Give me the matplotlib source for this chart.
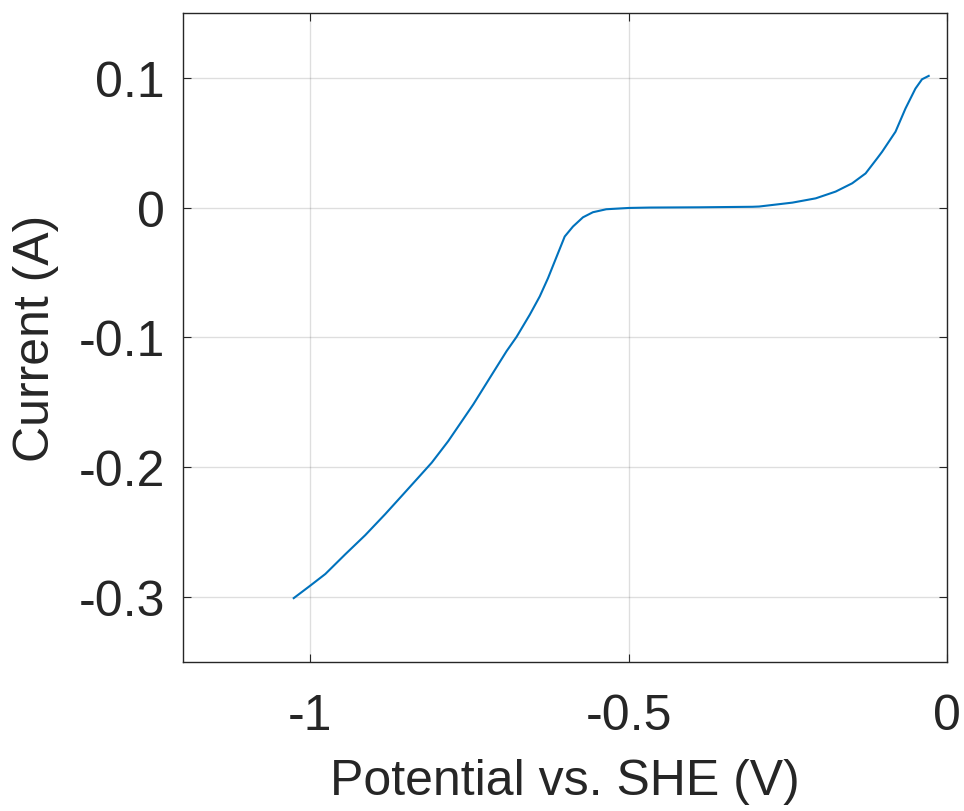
import matplotlib
matplotlib.use("Agg")
import matplotlib.pyplot as plt

potential = [-1.0262, -1.0, -0.9765, -0.9451, -0.9138, -0.8824, -0.8563, -0.8303, -0.8092,
             -0.7834, -0.7440, -0.7179, -0.6917, -0.6760, -0.6552, -0.6395, -0.6265,
             -0.6108, -0.6003, -0.5873, -0.5716, -0.5560, -0.5350, -0.4995, -0.4671,
             -0.389, -0.3052, -0.2947, -0.2425, -0.2058, -0.1745, -0.1484, -0.1274, -0.1092,
             -0.1014, -0.0804, -0.0647, -0.0491, -0.0387, -0.0282]
current = [-0.3008, -0.2911, -0.2822, -0.2670, -0.2523, -0.2361, -0.2220, -0.2079, -0.1964,
           -0.1799, -0.1516, -0.1311, -0.1106, -0.0996, -0.0825, -0.0684, -0.0543,
           -0.0351, -0.0223, -0.0146, -0.0075, -0.0036, -0.0013, -0.0003, 0.0,
           0.0002, 0.0006, 0.0008, 0.0038, 0.0071, 0.0123, 0.0187, 0.0263, 0.0379,
           0.0430, 0.0584, 0.0763, 0.0916, 0.0988, 0.1014]
xticks = [-1, -0.5, 0]
xticklabels = ["-1", "-0.5", "0"]
yticks = [-0.3, -0.2, -0.1, 0, 0.1]
yticklabels = ["-0.3", "-0.2", "-0.1", "0", "0.1"]

plt.rcParams['font.family'] = ['Liberation Sans', 'DejaVu Sans']
fig = plt.figure(figsize=(9.64, 8.12), dpi=100)
ax = fig.add_axes([0.190, 0.1835, 0.792, 0.7995])
ax.plot(potential, current, color='#0072BD', lw=1.5)
ax.set_xlim(-1.2, 0)
ax.set_ylim(-0.35, 0.15)
ax.set_xticks(xticks)
ax.set_xticklabels(xticklabels)
ax.set_yticks(yticks)
ax.set_yticklabels(yticklabels)
ax.grid(True, color='#262626', alpha=0.15, lw=1.0)
ax.set_axisbelow(True)
ax.tick_params(direction='in', length=6, width=0.8, colors='#262626', labelsize=36,
               top=True, right=True)
ax.tick_params(axis='x', pad=22)
ax.tick_params(axis='y', pad=13)
for s in ax.spines.values():
    s.set_color('#262626')
    s.set_linewidth(1.0)
ax.set_xlabel('Potential vs. SHE (V)', fontsize=36, color='#262626', labelpad=14)
ax.set_ylabel('Current (A)', fontsize=36, color='#262626', labelpad=14)
fig.savefig('out.png', dpi=100)
